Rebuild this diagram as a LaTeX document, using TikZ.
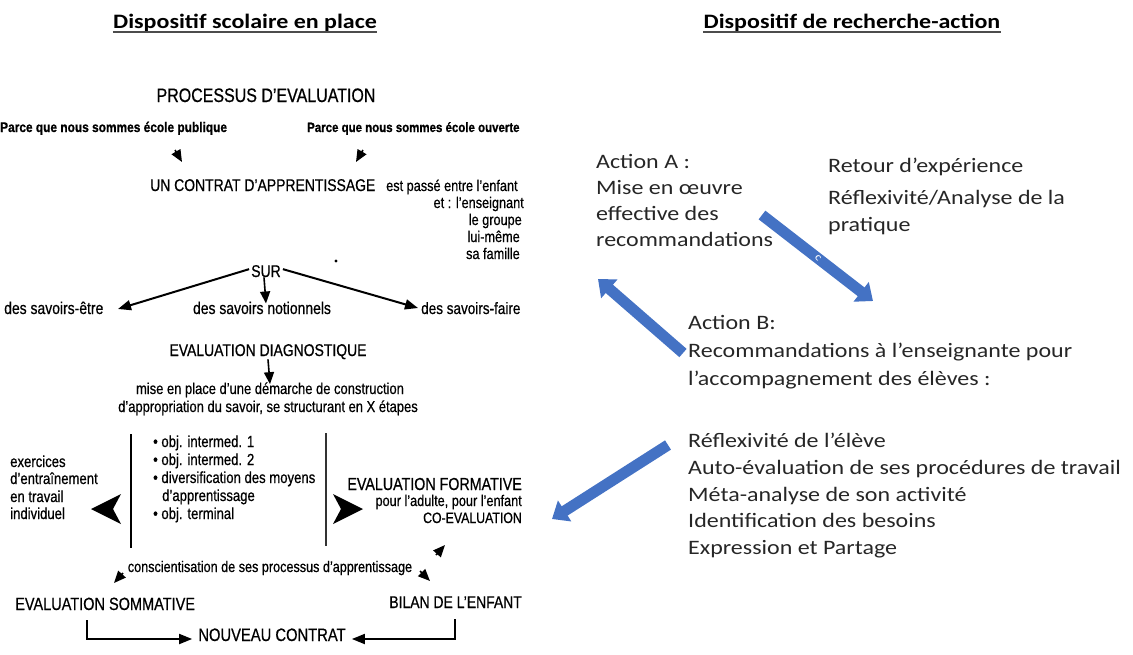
\documentclass[tikz,border=0pt]{standalone}
\usepackage{fontspec}
\setmainfont{Carlito}[FakeStretch=1.17]
\newfontfamily\narrow[FakeStretch=0.82,FakeBold=0.6]{Liberation Sans}
\newfontfamily\narrowbf[FakeStretch=0.85,FakeBold=0.8]{Liberation Sans Bold}
\usetikzlibrary{arrows.meta}
\newcommand{\fsz}[1]{\fontsize{#1}{#1}\selectfont}
\definecolor{ablue}{RGB}{68,114,196}
\definecolor{rtxt}{RGB}{38,38,38}
\tikzset{
  lt/.style={inner sep=0pt, font=\narrow\fsz{#1}},
  lb/.style={inner sep=0pt, font=\narrowbf\fsz{#1}},
  rt/.style={inner sep=0pt, anchor=base west, text=rtxt, font=\fsz{20.5}},
  ttl/.style={inner sep=0pt, anchor=base, font=\bfseries\fsz{20.5}},
  sarrow/.style={-{Triangle[width=10pt,length=12pt]}, line width=1.6pt},
  larrow/.style={-{Triangle[width=10pt,length=13pt]}, line width=2pt},
  barrow/.style={-{Triangle[width=24pt,length=15pt]}, line width=11pt, draw=ablue},
}
\begin{document}
\begin{tikzpicture}[x=1pt,y=-1pt]
\useasboundingbox (0,0) rectangle (1133,654);
% titles
\node[ttl] (t1) at (245,28) {Dispositif scolaire en place};
\node[ttl] (t2) at (852,28) {Dispositif de recherche-action};
\draw[line width=1.5pt, gray!60!black] ([yshift=-4pt]t1.base west) -- ([yshift=-4pt]t1.base east);
\draw[line width=1.5pt, gray!60!black] ([yshift=-4pt]t2.base west) -- ([yshift=-4pt]t2.base east);

% ---------- left diagram ----------
\node[lt=19.5, anchor=base] (proc) at (266,102) {PROCESSUS D’EVALUATION};
\node[lb=14, anchor=base west] (pub) at (0,132) {Parce que nous sommes école publique};
\node[lb=13.5, anchor=base west] (ouv) at (307,132) {Parce que nous sommes école ouverte};
\node[lt=17, anchor=base west] (contrat) at (150,191) {UN CONTRAT D’APPRENTISSAGE};
\node[lt=15.5, anchor=base west] (passe) at (386,191) {est passé entre l’enfant};
\node[lt=15.5, anchor=base east] (ens) at (524,208) {et : l’enseignant};
\node[lt=15.5, anchor=base east] (grp) at (522,225) {le groupe};
\node[lt=15.5, anchor=base east] (lui) at (520,242) {lui-même};
\node[lt=15.5, anchor=base east] (fam) at (520,259) {sa famille};
\coordinate (c1) at (175,150);
\coordinate (c1e) at (182,162);
\coordinate (c2) at (363,150);
\coordinate (c2e) at (356,162);
\draw[sarrow] (c1) -- (c1e);
\draw[sarrow] (c2) -- (c2e);

\node[lt=17, anchor=base] (sur) at (266,277) {SUR};
\fill (336,261) circle (1.6pt);
\node[lt=17, anchor=base west] (se) at (4,314) {des savoirs-être};
\node[lt=17, anchor=base] (sn) at (262,314) {des savoirs notionnels};
\node[lt=16.5, anchor=base west] (sf) at (421,314) {des savoirs-faire};
\coordinate (sl) at (118,309);
\coordinate (sr) at (418,308);
\draw[larrow] ([xshift=-2pt,yshift=2pt]sur.west) -- (sl);
\draw[larrow] ([xshift=2pt,yshift=2pt]sur.east) -- (sr);
\draw[sarrow] ([xshift=-2pt]sur.south) -- ([xshift=4pt,yshift=-2pt]sn.north);

\node[lt=17, anchor=base] (diag) at (268,356) {EVALUATION DIAGNOSTIQUE};
\node[lt=15.8, anchor=base] (mise1) at (270,394) {mise en place d’une démarche de construction};
\node[lt=15.8, anchor=base] (mise2) at (268,412) {d’appropriation du savoir, se structurant en X étapes};
\draw[sarrow] (diag.south) -- ([yshift=-2pt]mise1.north);

\coordinate (v1a) at (131,434); \coordinate (v1b) at (131,548);
\coordinate (v2a) at (326,433); \coordinate (v2b) at (326,546);
\draw[line width=1.8pt] (v1a) -- (v1b);
\draw[line width=1.8pt, gray!40!black] (v2a) -- (v2b);

\node[lt=16, anchor=base west] (ex1) at (10,467) {exercices};
\node[lt=16, anchor=base west] (ex2) at (10,484) {d’entraînement};
\node[lt=16, anchor=base west] (ex3) at (10,502) {en travail};
\node[lt=16, anchor=base west] (ex4) at (10,519) {individuel};

\node[lt=16, anchor=base west] (ob1) at (153,447) {• obj. intermed. 1};
\node[lt=16, anchor=base west] (ob2) at (153,465) {• obj. intermed. 2};
\node[lt=16, anchor=base west] (ob3) at (153,483) {• diversification des moyens};
\node[lt=16, anchor=base west] (ob4) at (162,501) {d’apprentissage};
\node[lt=16, anchor=base west] (ob5) at (153,519) {• obj. terminal};

% big arrowheads
\fill (91,509) -- (121,494) -- (113,509) -- (121,524) -- cycle;
\fill (363,509) -- (333,494) -- (341,509) -- (333,524) -- cycle;

\node[lt=17.4, anchor=base east] (form) at (522,490) {EVALUATION FORMATIVE};
\node[lt=15.5, anchor=base east] (form2) at (522,506) {pour l’adulte, pour l’enfant};
\node[lt=15, anchor=base east] (coev) at (522,523) {CO-EVALUATION};

\node[lt=15.4, anchor=base] (consc) at (270,572) {conscientisation de ses processus d’apprentissage};
\coordinate (s1) at (436,555); \coordinate (s1e) at (445,545);
\draw[sarrow] (s1) -- (s1e);
\coordinate (s2) at (123,573); \coordinate (s2e) at (114,583);
\draw[sarrow] (s2) -- (s2e);
\coordinate (s3) at (420,571); \coordinate (s3e) at (430,581);
\draw[sarrow] (s3) -- (s3e);

\node[lt=17.7, anchor=base west] (somm) at (15,610) {EVALUATION SOMMATIVE};
\node[lt=17, anchor=base east] (bilan) at (522,608) {BILAN DE L’ENFANT};
\node[lt=18, anchor=base] (nouv) at (272,641) {NOUVEAU CONTRAT};
\coordinate (bl) at (87,620);
\coordinate (br) at (455,619);
\draw[larrow, line width=1.8pt] (bl) |- ([xshift=-6pt,yshift=2pt]nouv.base west);
\draw[larrow, line width=1.8pt] (br) |- ([xshift=6pt,yshift=2pt]nouv.base east);

% ---------- right side ----------
\node[rt] (a1) at (596,168) {Action A :};
\node[rt] (a2) at (596,194) {Mise en œuvre};
\node[rt] (a3) at (596,220) {effective des};
\node[rt] (a4) at (596,246) {recommandations};
\node[rt] (r1) at (828,172) {Retour d’expérience};
\node[rt] (r2) at (828,204) {Réflexivité/Analyse de la};
\node[rt] (r3) at (828,231) {pratique};
\node[rt] (b1) at (688,329) {Action B:};
\node[rt] (b2) at (688,357) {Recommandations à l’enseignante pour};
\node[rt] (b3) at (688,385) {l’accompagnement des élèves :};
\node[rt] (l1) at (688,447) {Réflexivité de l’élève};
\node[rt] (l2) at (688,474) {Auto-évaluation de ses procédures de travail};
\node[rt] (l3) at (688,501) {Méta-analyse de son activité};
\node[rt] (l4) at (688,527) {Identification des besoins};
\node[rt] (l5) at (688,554) {Expression et Partage};

\coordinate (p1) at (762,215); \coordinate (p1e) at (873,301);
\coordinate (p2) at (683,353); \coordinate (p2e) at (598,279);
\coordinate (p3) at (668,445); \coordinate (p3e) at (552,519);
\draw[barrow] (p1) -- (p1e);
\draw[barrow] (p2) -- (p2e);
\draw[barrow] (p3) -- (p3e);
\node[text=white, inner sep=0pt, font=\fsz{11}, rotate=-52] (cc) at (818,258) {c};
\end{tikzpicture}
\end{document}
